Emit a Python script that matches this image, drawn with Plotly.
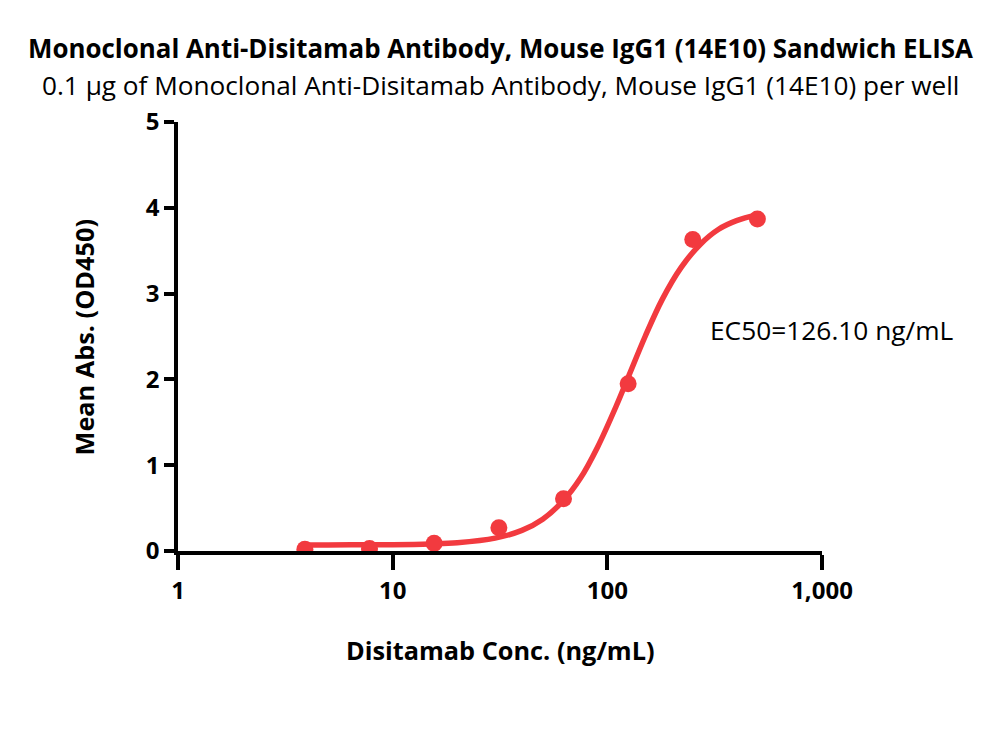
import plotly.graph_objects as go

# measured points (ng/mL vs OD450)
conc = [3.9, 7.8, 15.6, 31.25, 62.5, 125, 250, 500]
od450 = [0.02, 0.03, 0.09, 0.27, 0.61, 1.95, 3.63, 3.87]

# fitted curve
fit_conc = [3.9, 5, 7, 10, 15, 20, 30, 40, 50, 62.5, 75, 90, 110, 126,
            150, 180, 220, 270, 330, 400, 500]
fit_od = [0.07, 0.071, 0.072, 0.074, 0.083, 0.097, 0.15, 0.24, 0.37, 0.59,
          0.85, 1.21, 1.69, 2.045, 2.50, 2.93, 3.30, 3.57, 3.75, 3.85, 3.92]

x_ticks = [1, 10, 100, 1000]
x_tick_text = ["1", "10", "100", "1,000"]
y_ticks = [0, 1, 2, 3, 4, 5]

red = "#f23a3f"
font = "Open Sans"

fig = go.Figure()
fig.add_trace(go.Scatter(x=fit_conc, y=fit_od, mode="lines",
                         line=dict(color=red, width=5.5, shape="spline"),
                         showlegend=False, hoverinfo="skip"))
fig.add_trace(go.Scatter(x=conc, y=od450, mode="markers",
                         marker=dict(color=red, size=17),
                         showlegend=False))

def f(size):
    return dict(family=font, size=size, color="black")

fig.add_annotation(x=2.468, y=2.58, xref="x", yref="y", text="EC50=126.10 ng/mL",
                   xanchor="left", yanchor="middle", showarrow=False, font=f(26.3))
fig.add_annotation(x=0.5, y=1.1725, xref="paper", yref="paper",
                   text="<b>Monoclonal Anti-Disitamab Antibody, Mouse IgG1 (14E10) Sandwich ELISA</b>",
                   xanchor="center", yanchor="middle", showarrow=False, font=f(25.9))
fig.add_annotation(x=0.5, y=1.086, xref="paper", yref="paper",
                   text="0.1 µg of Monoclonal Anti-Disitamab Antibody, Mouse IgG1 (14E10) per well",
                   xanchor="center", yanchor="middle", showarrow=False, font=f(26.2))
fig.add_annotation(x=0.5, y=-0.231, xref="paper", yref="paper",
                   text="<b>Disitamab Conc. (ng/mL)</b>",
                   xanchor="center", yanchor="middle", showarrow=False, font=f(25.3))
fig.add_annotation(x=-0.146, y=0.5, xref="paper", yref="paper",
                   text="<b>Mean Abs. (OD450)</b>", textangle=-90,
                   xanchor="center", yanchor="middle", showarrow=False, font=f(25.3))

fig.update_layout(
    width=1000, height=734,
    paper_bgcolor="white", plot_bgcolor="white",
    margin=dict(l=170, r=186, t=114, b=191),
    xaxis=dict(
        type="log", range=[0, 3], tickvals=x_ticks, ticktext=x_tick_text,
        showgrid=False, zeroline=False, showline=True, linecolor="black", linewidth=3.5,
        ticks="outside", ticklen=15, tickwidth=3.5, tickcolor="black",
        tickfont=dict(family=font, size=24, color="black", weight="bold"),
    ),
    yaxis=dict(
        range=[0, 5], tickvals=y_ticks,
        showgrid=False, zeroline=False, showline=True, linecolor="black", linewidth=3.5,
        ticks="outside", ticklen=10, tickwidth=3.5, tickcolor="black",
        tickfont=dict(family=font, size=24, color="black", weight="bold"),
    ),
)

fig.write_html("out.html")
